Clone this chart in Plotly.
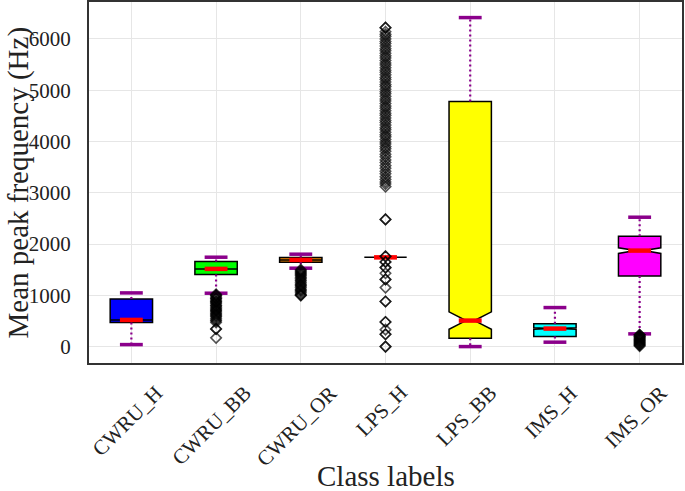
import plotly.graph_objects as go

# ---------------- data ----------------
categories = ["CWRU_H", "CWRU_BB", "CWRU_OR", "LPS_H", "LPS_BB", "IMS_H", "IMS_OR"]
q1_vals = [468, 1404, 1646, 1740, 164, 195, 1379]
median_vals = [520, 1515, 1690, 1740, 507, 351, 1872]
q3_vals = [930, 1658, 1736, 1740, 4778, 443, 2153]
whisker_low = [39, 1041, 1529, 1740, 0, 86, 248]
whisker_high = [1047, 1743, 1802, 1740, 6416, 761, 2523]
notch_half = [0, 0, 0, 0, 170, 15, 55]
box_colors = ["#0000FF", "#00FF00", "#FF8C00", "#FFFFFF", "#FFFF00", "#00FFFF", "#FF00FF"]

outliers_cwru_h = []
outliers_cwru_bb = [1020, 1000, 990, 960, 940, 930, 900, 880, 870, 850, 830, 800, 790,
                    760, 740, 720, 700, 690, 660, 640, 620, 600, 580, 550, 520, 500,
                    470, 345, 345, 170]
outliers_cwru_or = [1500, 1480, 1460, 1440, 1420, 1400, 1380, 1350, 1330, 1300, 1280,
                    1250, 1220, 1200, 1180, 1150, 1120, 1100, 1080, 1050, 1020, 1000, 1000]
outliers_lps_h = [1760, 1760, 1650, 1650, 1540, 1540, 1430, 1310, 1310, 1150, 880, 880,
                  480, 480, 330, 240, 240, 0, 0, 2480, 2480,
                  3120, 3170, 3210, 3260, 3310, 3370, 3420, 3480, 3530, 3590, 3640, 3700,
                  3750, 3810, 3860,
                  3900, 3950, 3990, 4040, 4090, 4130, 4180, 4230, 4270, 4320, 4370, 4410,
                  4460, 4510, 4550, 4600, 4650, 4690, 4740, 4790, 4830, 4880, 4930, 4970,
                  5020, 5070, 5110, 5160, 5210, 5250, 5300, 5350, 5390, 5440, 5490, 5530,
                  5580, 5630, 5670, 5720, 5770, 5810, 5860, 5910, 5950, 6000, 6050, 6090,
                  6140, 6220, 6220]
outliers_lps_bb = []
outliers_ims_h = []
outliers_ims_or = [230, 230, 210, 190, 190, 170, 150, 150, 130, 110, 110, 90, 70, 70,
                   50, 30, 30, 10]
outlier_lists = [outliers_cwru_h, outliers_cwru_bb, outliers_cwru_or, outliers_lps_h,
                 outliers_lps_bb, outliers_ims_h, outliers_ims_or]

y_ticks = [0, 1000, 2000, 3000, 4000, 5000, 6000]
x_title = "Class labels"
y_title = "Mean peak frequency (Hz)"

# ---------------- figure ----------------
FONT = "Liberation Serif"
PURPLE = "#8B008B"
positions = list(range(len(categories)))
BOX_W = 0.5
HALF_MARK = 0.135

fig = go.Figure()

for i, pos in enumerate(positions):
    notched = notch_half[i] > 0
    kw = {}
    if notched:
        kw = dict(notched=True, notchspan=[notch_half[i]], notchwidth=0.4)
    fig.add_trace(go.Box(
        x=[pos], q1=[q1_vals[i]], median=[median_vals[i]], q3=[q3_vals[i]],
        lowerfence=[q1_vals[i]], upperfence=[q3_vals[i]],
        width=BOX_W, whiskerwidth=0, fillcolor=box_colors[i],
        line=dict(color="black", width=1.5), boxpoints=False,
        showlegend=False, hoverinfo="skip", **kw))

# whiskers (dotted purple) and caps
wx, wy, cx, cy = [], [], [], []
for i, pos in enumerate(positions):
    if whisker_high[i] > q3_vals[i]:
        wx += [pos, pos, None]
        wy += [q3_vals[i], whisker_high[i], None]
        cx += [pos - HALF_MARK, pos + HALF_MARK, None]
        cy += [whisker_high[i], whisker_high[i], None]
    if whisker_low[i] < q1_vals[i]:
        wx += [pos, pos, None]
        wy += [q1_vals[i], whisker_low[i], None]
        cx += [pos - HALF_MARK, pos + HALF_MARK, None]
        cy += [whisker_low[i], whisker_low[i], None]
fig.add_trace(go.Scatter(x=wx, y=wy, mode="lines", showlegend=False, hoverinfo="skip",
                         line=dict(color=PURPLE, width=2.2, dash="2px,3px")))
fig.add_trace(go.Scatter(x=cx, y=cy, mode="lines", showlegend=False, hoverinfo="skip",
                         line=dict(color=PURPLE, width=3.5)))

# red median marks
mx, my = [], []
for i, pos in enumerate(positions):
    mx += [pos - HALF_MARK, pos + HALF_MARK, None]
    my += [median_vals[i], median_vals[i], None]
fig.add_trace(go.Scatter(x=mx, y=my, mode="lines", showlegend=False, hoverinfo="skip",
                         line=dict(color="#FF0000", width=4.5)))

# outliers
ox, oy = [], []
for i, pos in enumerate(positions):
    ox += [pos] * len(outlier_lists[i])
    oy += outlier_lists[i]
fig.add_trace(go.Scatter(x=ox, y=oy, mode="markers", showlegend=False, hoverinfo="skip",
                         marker=dict(symbol="diamond-open", size=8,
                                     color="rgba(0,0,0,0.68)",
                                     line=dict(width=1.6, color="rgba(0,0,0,0.68)"))))

# rotated category labels (matplotlib-style, centred under the tick)
for pos, lab in zip(positions, categories):
    fig.add_annotation(x=pos, y=0, xref="x", yref="paper", text=lab, showarrow=False,
                       textangle=-45, xanchor="center", yanchor="top",
                       xshift=-4, yshift=-15,
                       font=dict(family=FONT, size=21, color="#222"))

fig.add_annotation(x=0.5, y=0, xref="paper", yref="paper", text=x_title, showarrow=False,
                   xanchor="center", yanchor="middle", yshift=-113,
                   font=dict(family=FONT, size=29, color="#222"))
fig.add_annotation(x=0, y=0.5, xref="paper", yref="paper", text=y_title, showarrow=False,
                   textangle=-90, xanchor="center", yanchor="middle", xshift=-71,
                   font=dict(family=FONT, size=29, color="#222"))

fig.update_layout(
    template="none",
    width=685, height=491,
    margin=dict(l=89, r=3, t=2, b=128),
    paper_bgcolor="white", plot_bgcolor="white",
    font=dict(family=FONT, color="#222"),
)
fig.update_xaxes(range=[-0.5, 6.5], tickvals=positions, ticktext=categories,
                 automargin=False,
                 showticklabels=False, showgrid=True, gridcolor="#e6e6e6", gridwidth=1,
                 zeroline=False, showline=True, linecolor="#333", linewidth=2, mirror=True,
                 ticks="")
fig.update_yaxes(range=[-320, 6720], tickvals=y_ticks, showgrid=True, gridcolor="#e6e6e6",
                 automargin=False,
                 gridwidth=1, zeroline=False, showline=True, linecolor="#333", linewidth=2,
                 mirror=True, ticks="", ticklabelstandoff=12,
                 tickfont=dict(family=FONT, size=21, color="#222"))

fig.write_html("out.html", config={"displayModeBar": False},
               post_script="document.body.style.margin='0';")
